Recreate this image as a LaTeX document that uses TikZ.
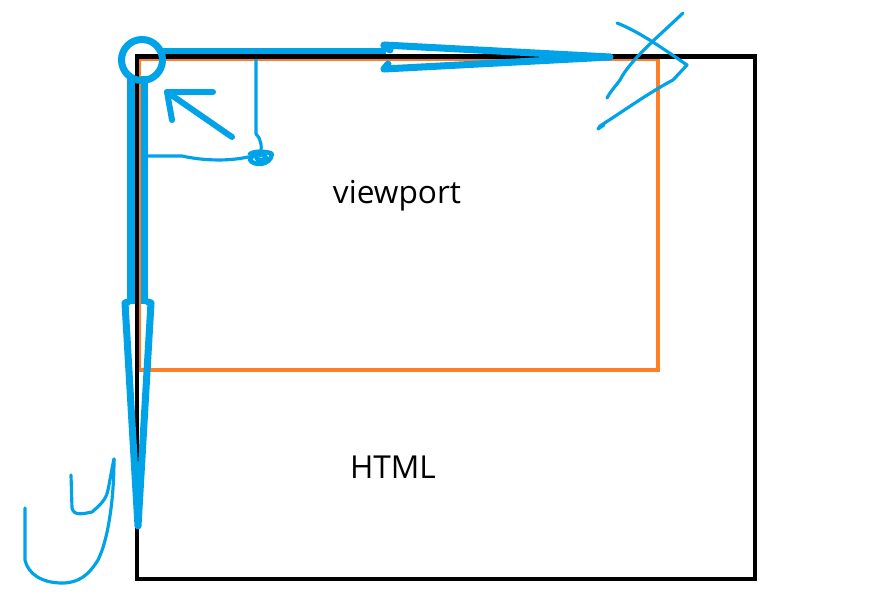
\documentclass[tikz,border=0pt]{standalone}
\usepackage{fontspec}
\setmainfont{Open Sans}
\usepackage{tikz}

\definecolor{penblue}{RGB}{0,162,232}
\definecolor{vporange}{RGB}{255,127,39}

\tikzset{
  pen/.style={draw=penblue, line width=4pt, line cap=round, line join=round},
  thinpen/.style={draw=penblue, line width=1.8pt, line cap=round, line join=round},
  label/.style={font=\fontsize{18}{21}\selectfont, inner sep=0pt}
}

\begin{document}
\begin{tikzpicture}[x=0.02cm, y=-0.02cm]
\useasboundingbox (0,0) rectangle (884,609);

% Axis shafts
\draw[penblue, line width=6.4pt] (158,54) -- (386,54);
\draw[penblue, line width=11.5pt] (137.5,76) -- (137.5,304);

% Viewport box
\draw[vporange, line width=2.3pt] (139,58.5) rectangle (658,370);

% HTML box
\draw[black, line width=2.3pt] (137,56.5) rectangle (755,579);

% Origin circle
\draw[pen] (142,60) circle (20.5);

% x arrow head
\draw[pen] (390,50) -- (384,46) -- (384,45) -- (610,57) -- (384,69) -- (388,64);

% y arrow head
\draw[pen] (128,302) -- (125,303) -- (138,526) -- (151,303) -- (148,302);

% Small arrow to origin
\draw[pen, line width=3.4pt] (232,137) -- (167,92);
\draw[pen, line width=3.4pt] (213,92) -- (167,92) -- (172,120);

% Offset marks
\draw[thinpen] (256,60) -- (256,134) .. controls (262,140) and (262,148) .. (260,156);
\draw[thinpen] (148,156) -- (182,156) .. controls (200,160) and (225,162) .. (248,157);
\draw[thinpen, line width=2.6pt] (250,154) .. controls (256,150) and (270,152) .. (272,154)
  .. controls (270,166) and (254,166) .. (250,160) .. controls (252,152) and (264,152) .. (266,158)
  .. controls (262,162) and (256,160) .. (256,156);

% Letter x
\draw[thinpen] (617,23) .. controls (640,32) and (665,50) .. (687,65)
  -- (673,80) .. controls (650,92) and (625,110) .. (600,126) -- (598,129) -- (604,125);
\draw[thinpen] (683,13) .. controls (660,35) and (630,60) .. (620,80) .. controls (614,88) and (610,92) .. (607,98);

% Letter y
\draw[thinpen] (71,475) -- (72,508) .. controls (74,516) and (82,514) .. (92,512)
  .. controls (100,505) and (106,500) .. (108,490) .. controls (110,480) and (112,468) .. (114,459);
\draw[thinpen] (114,459) .. controls (114,500) and (108,540) .. (98,560)
  .. controls (88,576) and (78,583) .. (62,583) .. controls (42,583) and (28,574) .. (25,560) -- (25,508);

% Labels
\node[label] (vplabel) at (397,196) {viewport};
\node[label] (htmllabel) at (393,467) {HTML};
\end{tikzpicture}
\end{document}
